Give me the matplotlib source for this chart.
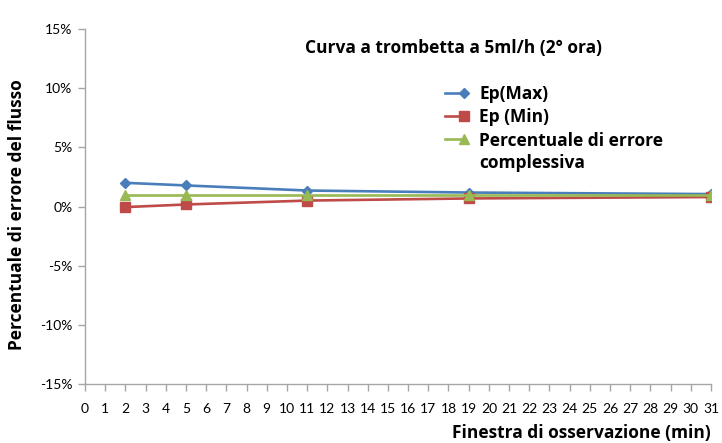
import matplotlib
matplotlib.use("Agg")
import matplotlib.pyplot as plt
from matplotlib.legend_handler import HandlerLine2D
from matplotlib.ticker import FuncFormatter, MultipleLocator

# Observation windows (min) and percentage flow errors
finestra = [2, 5, 11, 19, 31]
ep_max = [2.0, 1.78, 1.35, 1.18, 1.05]
ep_min = [-0.05, 0.17, 0.5, 0.68, 0.8]
errore_complessivo = [0.93, 0.93, 0.93, 0.93, 0.93]

series_labels = ["Ep(Max)", "Ep (Min)", "Percentuale di errore\ncomplessiva"]
title_text = "Curva a trombetta a 5ml/h (2° ora)"
x_label = "Finestra di osservazione (min)"
y_label = "Percentuale di errore del flusso"

plt.rcParams['font.family'] = ['Lato', 'DejaVu Sans']
BOLD_FAMILY = ['Open Sans', 'DejaVu Sans']


class HandlerLineEndMarker(HandlerLine2D):
    """Legend line with a single marker at its right end, optionally raised
    so that it lines up with the first row of a two-line label."""

    def __init__(self, y_shift=0.0, **kw):
        super().__init__(**kw)
        self.y_shift = y_shift

    def create_artists(self, legend, orig_handle, xdescent, ydescent,
                       width, height, fontsize, trans):
        artists = super().create_artists(legend, orig_handle, xdescent, ydescent,
                                         width, height, fontsize, trans)
        for a in artists:
            a.set_ydata([y + self.y_shift for y in a.get_ydata()])
            if a.get_marker() not in (None, "None", ""):
                a.set_markevery([len(a.get_xdata()) - 1])
        return artists


fig = plt.figure(figsize=(7.22, 4.43), dpi=100)
ax = fig.add_axes([85 / 722, 1 - 384 / 443, (711 - 85) / 722, (384 - 29) / 443])

styles = [
    dict(color="#4A7EBB", marker="D", markersize=5),
    dict(color="#BE4B48", marker="s", markersize=6.5),
    dict(color="#98B954", marker="^", markersize=6.5),
]
data = [ep_max, ep_min, errore_complessivo]

handles = []
for vals, st in zip(data, styles):
    line, = ax.plot(finestra, vals, color=st["color"], marker=st["marker"],
                    markersize=st["markersize"], linewidth=1.9, zorder=3)
    handles.append(line)

ax.set_xlim(0, 31)
ax.set_ylim(-15, 15)
ax.xaxis.set_major_locator(MultipleLocator(1))
ax.yaxis.set_major_locator(MultipleLocator(5))
ax.yaxis.set_major_formatter(FuncFormatter(lambda v, p: f"{int(round(v))}%"))

for side in ["top", "right"]:
    ax.spines[side].set_visible(False)
for side in ["left", "bottom"]:
    ax.spines[side].set_color("#A6A6A6")
    ax.spines[side].set_linewidth(1.0)

ax.tick_params(axis="both", direction="out", colors="#A6A6A6", length=5, width=1.0,
               labelcolor="black", labelsize=10)
ax.tick_params(axis="x", pad=9)
ax.tick_params(axis="y", pad=4)

ax.text(0.351, 0.946, title_text, transform=ax.transAxes, fontsize=12.5,
        fontweight="bold", family=BOLD_FAMILY, ha="left", va="center")

handler_map = {
    handles[0]: HandlerLineEndMarker(numpoints=2),
    handles[1]: HandlerLineEndMarker(numpoints=2),
    handles[2]: HandlerLineEndMarker(y_shift=10.0, numpoints=2),
}
leg = ax.legend(handles, series_labels, loc="upper left",
                bbox_to_anchor=(0.567, 0.842), frameon=False,
                handler_map=handler_map, borderpad=0, borderaxespad=0,
                handlelength=1.67, handletextpad=0.6, labelspacing=0.3,
                prop=dict(weight="bold", size=12.5, family=BOLD_FAMILY))
for t in leg.get_texts():
    t.set_linespacing(1.35)

fig.text(711 / 722, 1 - 433 / 443, x_label, ha="right", va="center",
         fontsize=12.5, fontweight="bold", family=BOLD_FAMILY)
fig.text(17 / 722, 1 - 215 / 443, y_label, ha="center", va="center",
         rotation=90, fontsize=12.5, fontweight="bold", family=BOLD_FAMILY)

fig.savefig("out.png", dpi=100)
